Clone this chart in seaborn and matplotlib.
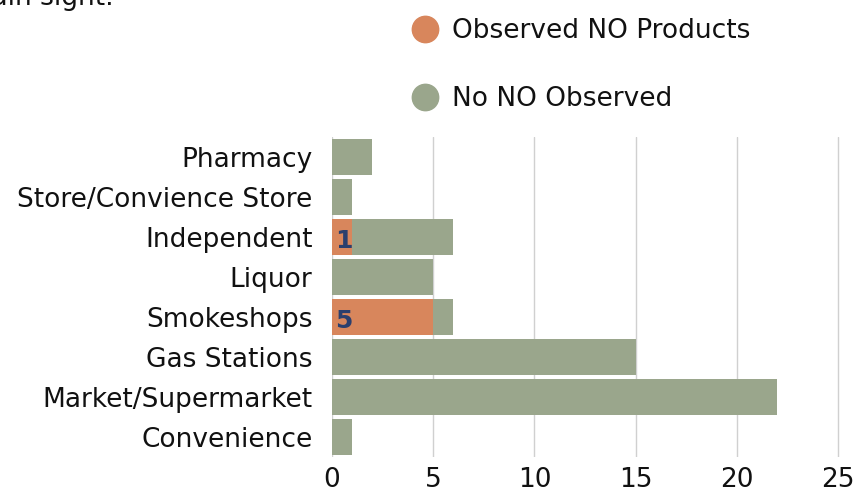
import matplotlib
matplotlib.use("Agg")
import matplotlib.pyplot as plt
import seaborn as sns
import pandas as pd
from matplotlib.lines import Line2D

# data
categories = ["Pharmacy", "Store/Convience Store", "Independent", "Liquor",
              "Smokeshops", "Gas Stations", "Market/Supermarket", "Convenience"]
observed_no = [0, 0, 1, 0, 5, 0, 0, 0]
no_no_observed = [2, 1, 5, 5, 1, 15, 22, 1]
x_ticks = [0, 5, 10, 15, 20, 25]

orange = "#D8865C"
green = "#9AA68C"
navy = "#2B3F6E"

df = pd.DataFrame({
    "Category": categories,
    "Observed": observed_no,
    "NoNO": no_no_observed,
})
df["Total"] = df["Observed"] + df["NoNO"]

sns.set_style("white")
plt.rcParams["font.family"] = ["DejaVu Sans"]
plt.rcParams["text.color"] = "#111111"
plt.rcParams["xtick.color"] = "#111111"
plt.rcParams["ytick.color"] = "#111111"

fig = plt.figure(figsize=(8.65, 4.91), dpi=100)
ax = fig.add_axes([0.3838, 0.0692, 0.587, 0.652])

sns.barplot(data=df, x="Total", y="Category", color=green, width=0.9,
            saturation=1, ax=ax, zorder=2, edgecolor="none")
sns.barplot(data=df, x="Observed", y="Category", color=orange, width=0.9,
            saturation=1, ax=ax, zorder=3, edgecolor="none")

for i, v in enumerate(df["Observed"]):
    if v > 0:
        ax.text(0.15, i + 0.1, str(v), ha="left", va="center", color=navy,
                fontsize=18, fontweight="bold", zorder=4)

ax.set_xlim(0, 25.08)
ax.set_ylim(7.5, -0.5)
ax.set_xticks(x_ticks)
ax.grid(axis="x", color="#d0d0d0", linewidth=1, zorder=0)
ax.set_axisbelow(True)
for s in ax.spines.values():
    s.set_visible(False)
ax.tick_params(axis="y", length=0, pad=14, labelsize=19)
ax.tick_params(axis="x", length=0, pad=7, labelsize=19)
ax.set_xlabel("")
ax.set_ylabel("")

# legend drawn as two markers with labels
handles = [Line2D([0], [0], marker="o", linestyle="", markersize=19,
                  markerfacecolor=orange, markeredgecolor=orange),
           Line2D([0], [0], marker="o", linestyle="", markersize=19,
                  markerfacecolor=green, markeredgecolor=green)]
fig.legend(handles, ["Observed NO Products", "No NO Observed"],
           loc="upper left", bbox_to_anchor=(0.445, 1.012), frameon=False,
           fontsize=19, labelspacing=1.6, handletextpad=0.43, handlelength=1.2)

# cut-off subtitle from the slide above
fig.text(114 / 865, 1 - 5 / 491, "products in plain sight.", ha="right",
         va="baseline", fontsize=19)

fig.savefig("out.png", dpi=100)
